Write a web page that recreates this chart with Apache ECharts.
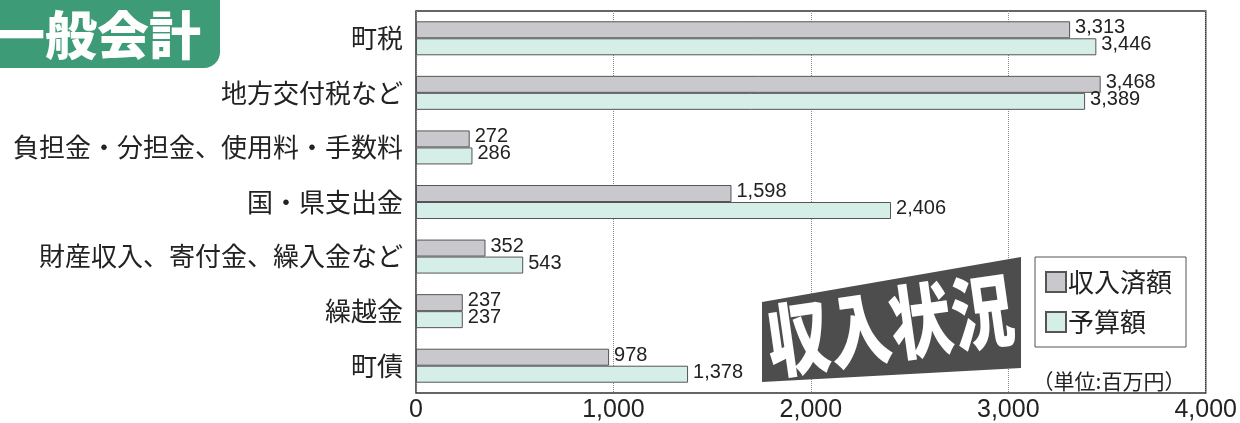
<!DOCTYPE html>
<html><head><meta charset="utf-8">
<script src="https://cdn.jsdelivr.net/npm/echarts@6/dist/echarts.min.js"></script>
<style>html,body{margin:0;padding:0;background:#fff}#c{width:1240px;height:423px}</style>
</head><body><div id="c"></div>
<script>
const categories = ['町税','地方交付税など','負担金・分担金、使用料・手数料','国・県支出金','財産収入、寄付金、繰入金など','繰越金','町債'];
const received = [3313, 3468, 272, 1598, 352, 237, 978];
const budget = [3446, 3389, 286, 2406, 543, 237, 1378];
const xTicks = [0, 1000, 2000, 3000, 4000];
const seriesNames = ['収入済額', '予算額'];

const CJK = '"Noto Sans CJK JP", "Noto Sans", sans-serif';
const NUM = '"Liberation Sans", Arial, sans-serif';
const chart = echarts.init(document.getElementById('c'), null, {renderer: 'canvas'});
const fmt = v => v.toLocaleString('en-US');

const labelCfg = {
  show: true, position: 'right', distance: 5, offset: [0, -2],
  fontFamily: NUM, fontSize: 20, color: '#222',
  formatter: p => fmt(p.value)
};

chart.setOption({
  animation: false,
  grid: {left: 416, right: 30, top: 11, bottom: 28, show: true, borderColor: '#333', borderWidth: 1.5, backgroundColor: 'transparent', containLabel: false},
  xAxis: {
    type: 'value', min: xTicks[0], max: xTicks[xTicks.length - 1], interval: 1000,
    axisLine: {show: false}, axisTick: {show: false},
    axisLabel: {fontFamily: NUM, fontSize: 25, color: '#222', margin: 5, formatter: v => fmt(v)},
    splitLine: {show: true, lineStyle: {type: 'dotted', color: '#888', width: 1}}
  },
  yAxis: {
    type: 'category', data: categories, inverse: true,
    axisLine: {show: false}, axisTick: {show: false},
    axisLabel: {fontFamily: CJK, fontSize: 26, color: '#222', margin: 13}
  },
  legend: {
    orient: 'vertical', left: 1035, top: 257, data: seriesNames,
    icon: 'rect', itemWidth: 20, itemHeight: 20, itemGap: 14,
    padding: [12, 14, 12, 10], borderColor: '#555', borderWidth: 1, backgroundColor: '#fff',
    textStyle: {fontFamily: CJK, fontSize: 26, color: '#222', lineHeight: 26, padding: [0, 0, 0, -3]}
  },
  series: [
    {name: seriesNames[0], type: 'bar', data: received, barWidth: 17, barGap: '0%',
     itemStyle: {color: '#c9c9cd', borderColor: '#555', borderWidth: 1}, label: labelCfg},
    {name: seriesNames[1], type: 'bar', data: budget, barWidth: 17, barGap: '0%',
     itemStyle: {color: '#d5eee8', borderColor: '#555', borderWidth: 1}, label: labelCfg}
  ],
  graphic: [
    {type: 'rect', z: 20, shape: {x: -20, y: -20, width: 240, height: 88, r: [0, 16, 16, 0]}, style: {fill: '#3d9b77'}},
    {type: 'text', z: 21, x: 97, y: 35, style: {text: '一般会計', fill: '#fff', font: '900 52px "Noto Sans CJK JP"', align: 'center', verticalAlign: 'middle'}},
    {type: 'polygon', z: 20, shape: {points: [[762, 302], [1021, 257], [1021, 368], [762, 382]]}, style: {fill: '#4d4d4d'}},
    {type: 'text', z: 21, x: 890, y: 325, rotation: 0.14, scaleY: 1.3, style: {text: '収入状況', fill: '#fff', font: '900 62px "Noto Sans CJK JP"', align: 'center', verticalAlign: 'middle'}},
    {type: 'text', z: 21, x: 1109, y: 381, style: {text: '（単位:百万円）', fill: '#222', font: '21px "Noto Sans CJK JP"', align: 'center', verticalAlign: 'middle'}}
  ]
});
</script></body></html>
